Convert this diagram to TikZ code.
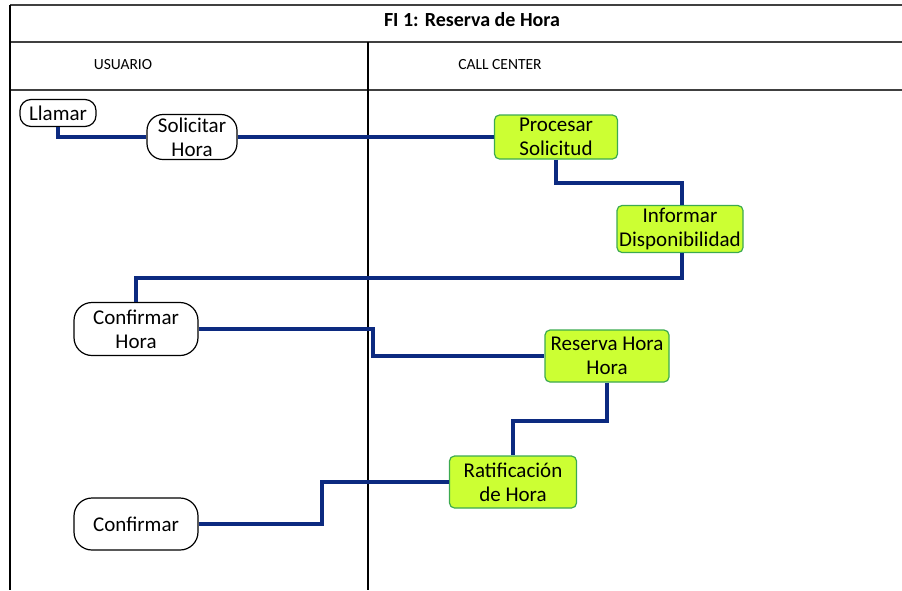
\documentclass[tikz,border=0pt]{standalone}
\usepackage{fontspec}
\setmainfont{Carlito}
\begin{document}
\begin{tikzpicture}[x=1pt,y=-1pt,
  lane/.style={line width=1.2pt,black},
  rowline/.style={line width=1.8pt,black!75},
  userbox/.style={draw=black,line width=1.2pt,fill=white,rounded corners=13pt,
    align=center,inner sep=0pt,font=\fontsize{21}{24}\selectfont},
  taskbox/.style={draw=boxgreen,line width=1.2pt,fill=taskfill,rounded corners=5pt,
    align=center,inner sep=0pt,font=\fontsize{21}{24}\selectfont},
  flow/.style={draw=flowblue,line width=4.2pt,line join=miter}]
\definecolor{flowblue}{RGB}{12,42,128}
\definecolor{taskfill}{RGB}{204,255,51}
\definecolor{boxgreen}{RGB}{60,170,80}
\useasboundingbox (0,0) rectangle (902,590);
% swimlane frame
\draw[rowline] (10,5) -- (902,5);
\draw[rowline] (10,42) -- (902,42);
\draw[rowline] (10,90) -- (902,90);
\draw[lane] (10,5) -- (10,590);
\draw[lane] (368,42) -- (368,590);
\node[font=\bfseries\fontsize{20}{22}\selectfont] (title) at (472,20) {FI 1: Reserva de Hora};
\node[font=\fontsize{15.5}{17}\selectfont] (usr) at (123,65) {USUARIO};
\node[font=\fontsize{15.5}{17}\selectfont] (cc) at (500,65) {CALL CENTER};
% activities
\node[userbox,minimum width=76pt,minimum height=27pt,rounded corners=11pt] (llamar) at (58,113) {Llamar};
\node[userbox,minimum width=90pt,minimum height=45pt,rounded corners=16pt] (solicitar) at (192,137) {Solicitar\\Hora};
\node[taskbox,minimum width=123pt,minimum height=44pt] (procesar) at (556,137) {Procesar\\Solicitud};
\node[taskbox,minimum width=126pt,minimum height=47pt] (informar) at (680,229) {Informar\\Disponibilidad};
\node[userbox,minimum width=124pt,minimum height=53pt,rounded corners=18pt] (confhora) at (136,329) {Confirmar\\Hora};
\node[taskbox,minimum width=124pt,minimum height=52pt] (reserva) at (607,356) {Reserva Hora\\Hora};
\node[taskbox,minimum width=127pt,minimum height=52pt] (ratif) at (513,482) {Ratificación\\de Hora};
\node[userbox,minimum width=124pt,minimum height=52pt,rounded corners=18pt] (confirmar) at (136,524) {Confirmar};
% flow connectors
\draw[flow] (llamar.south) |- (solicitar.west);
\draw[flow] (solicitar.east) -- (procesar.west);
\draw[flow] (procesar.south) -- ++(0,23) -| ([xshift=2pt]informar.north);
\draw[flow] ([xshift=2pt]informar.south) -- ++(0,25) -| (confhora.north);
\draw[flow] (confhora.east) -- ++(174,0) |- (reserva.west);
\draw[flow] (reserva.south) -- ++(0,38) -| (ratif.north);
\draw[flow] (ratif.west) -- ++(-127,0) |- (confirmar.east);
\end{tikzpicture}
\end{document}
